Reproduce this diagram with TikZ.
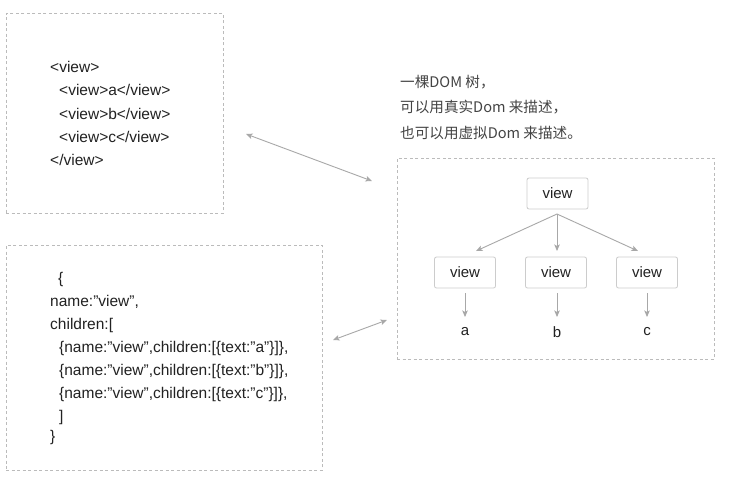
\documentclass[tikz,border=0pt]{standalone}
\usepackage{fontspec}
\setmainfont{Liberation Sans}
\newfontfamily\cjk{Noto Sans CJK SC}
\usetikzlibrary{arrows.meta}
\definecolor{dashc}{HTML}{BBBBBB}
\definecolor{boxc}{HTML}{CCCCCC}
\definecolor{arrc}{HTML}{A8A8A8}
\definecolor{codec}{HTML}{222222}
\definecolor{cnc}{HTML}{444444}
\tikzset{
  frame/.style={draw=dashc, dash pattern=on 3pt off 2.5pt, line width=0.8pt, rectangle, inner sep=0pt},
  code/.style={anchor=west, inner sep=0pt, text=codec, font=\fontsize{15.5}{18}\selectfont},
  cn/.style={anchor=west, inner sep=0pt, text=cnc, font=\cjk\fontsize{14.6}{17}\selectfont},
  vbox/.style={draw=boxc, line width=0.8pt, rounded corners=2pt, minimum width=61pt, minimum height=31pt, inner sep=0pt, text=codec, font=\fontsize{15}{18}\selectfont},
  leaf/.style={inner sep=0pt, text=codec, font=\fontsize{15}{18}\selectfont},
  link/.style={draw=arrc, line width=0.9pt, -{Stealth[length=6.5pt,width=5.5pt,inset=1.5pt]}},
  dlink/.style={draw=arrc, line width=0.9pt, {Stealth[length=6.5pt,width=5.5pt,inset=1.5pt]}-{Stealth[length=6.5pt,width=5.5pt,inset=1.5pt]}}
}
\begin{document}
\begin{tikzpicture}[x=1pt,y=-1pt]
\useasboundingbox (0,0) rectangle (743,488);
\fill[white] (0,0) rectangle (743,488);
% frames
\node[frame, minimum width=217pt, minimum height=200pt] (f1) at (114.5,113) {};
\node[frame, minimum width=316pt, minimum height=225pt] (f2) at (164,357.5) {};
\node[frame, minimum width=317pt, minimum height=201pt] (f3) at (555.5,258.5) {};
% code block 1
\node[code] (h1) at (50,67) {<view>};
\node[code] (h2) at (59,90) {<view>a</view>};
\node[code] (h3) at (59,114) {<view>b</view>};
\node[code] (h4) at (59,137) {<view>c</view>};
\node[code] (h5) at (50,160) {</view>};
% code block 2
\node[code] (j1) at (58,279) {\{};
\node[code] (j2) at (50,302) {name:”view”,};
\node[code] (j3) at (50,325) {children:[};
\node[code] (j4) at (59,348) {\{name:”view”,children:[\{text:”a”\}]\},};
\node[code] (j5) at (59,371) {\{name:”view”,children:[\{text:”b”\}]\},};
\node[code] (j6) at (59,394) {\{name:”view”,children:[\{text:”c”\}]\},};
\node[code] (j7) at (59,417) {]};
\node[code] (j8) at (50,437) {\}};
% chinese text
\node[cn] (c1) at (400,82) {一棵DOM 树，};
\node[cn] (c2) at (400,107) {可以用真实Dom 来描述，};
\node[cn] (c3) at (400,133) {也可以用虚拟Dom 来描述。};
% tree
\node[vbox] (root) at (557.5,193.5) {view};
\node[vbox] (va) at (465,272.5) {view};
\node[vbox] (vb) at (556,272.5) {view};
\node[vbox] (vc) at (647,272.5) {view};
\node[leaf] (la) at (465,332) {a};
\node[leaf] (lb) at (557,332) {b};
\node[leaf] (lc) at (647,332) {c};
\coordinate (rs) at (557,214);
\coordinate (ea) at (476,251);
\coordinate (eb) at (557,251);
\coordinate (ec) at (638,251);
\draw[link] (rs) -- (ea);
\draw[link] (rs) -- (eb);
\draw[link] (rs) -- (ec);
\coordinate (sa) at (465,293);
\coordinate (sb) at (557,293);
\coordinate (sc) at (647,293);
\coordinate (ta) at (465,317);
\coordinate (tb) at (557,317);
\coordinate (tc) at (647,317);
\draw[link] (sa) -- (ta);
\draw[link] (sb) -- (tb);
\draw[link] (sc) -- (tc);
% double arrows
\coordinate (d1a) at (246,134);
\coordinate (d1b) at (372,181);
\coordinate (d2a) at (333,340);
\coordinate (d2b) at (387,320);
\draw[dlink] (d1a) -- (d1b);
\draw[dlink] (d2a) -- (d2b);
\end{tikzpicture}
\end{document}
